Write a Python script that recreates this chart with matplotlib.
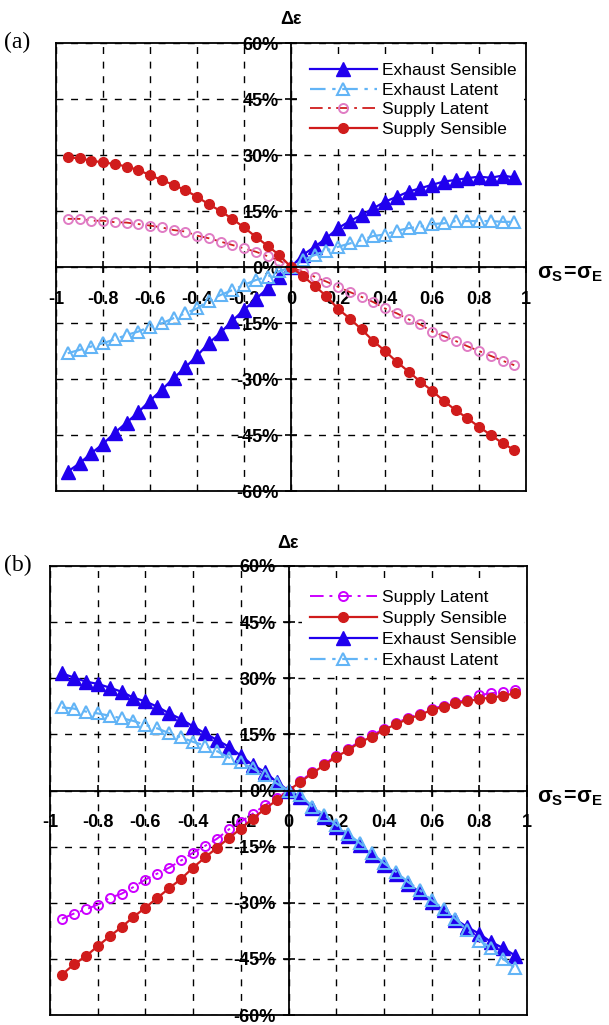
import matplotlib
matplotlib.use("Agg")
import matplotlib.pyplot as plt

plt.rcParams['font.family'] = ['Liberation Sans', 'DejaVu Sans']
plt.rcParams['mathtext.fontset'] = 'custom'
plt.rcParams['mathtext.bf'] = 'Liberation Sans:bold'
plt.rcParams['mathtext.rm'] = 'Liberation Sans:bold'
plt.rcParams['mathtext.it'] = 'Liberation Sans:bold'

# ---------------- data ----------------
sigma = [-0.95, -0.9, -0.85, -0.8, -0.75, -0.7, -0.65, -0.6, -0.55, -0.5,
         -0.45, -0.4, -0.35, -0.3, -0.25, -0.2, -0.15, -0.1, -0.05, 0.0,
         0.05, 0.1, 0.15, 0.2, 0.25, 0.3, 0.35, 0.4, 0.45, 0.5,
         0.55, 0.6, 0.65, 0.7, 0.75, 0.8, 0.85, 0.9, 0.95]

# panel (a)  (values in %)
a_exh_sens = [-54.8, -52.6, -49.9, -47.4, -44.4, -41.7, -38.9, -35.8, -32.9, -29.8,
              -26.9, -23.8, -20.4, -17.6, -14.4, -11.5, -8.6, -5.7, -2.8, 0.0,
              3.2, 5.4, 7.7, 10.4, 12.3, 13.9, 15.7, 17.5, 18.8, 20.2,
              21.1, 22.0, 22.9, 23.3, 23.8, 24.2, 23.9, 24.5, 24.0]
a_exh_lat = [-23.1, -22.2, -21.3, -20.4, -19.4, -18.2, -17.3, -16.0, -15.1, -13.7,
             -12.4, -11.1, -9.0, -7.5, -6.2, -4.8, -3.5, -2.6, -1.2, 0.0,
             1.8, 3.2, 4.4, 5.4, 6.3, 7.2, 8.3, 8.7, 9.7, 10.4,
             10.8, 11.5, 11.7, 12.3, 12.3, 12.3, 12.3, 12.1, 12.1]
a_sup_lat = [12.9, 12.9, 12.4, 12.4, 12.0, 11.9, 11.5, 11.1, 10.6, 9.9,
             9.5, 8.4, 7.7, 6.8, 5.9, 5.0, 4.1, 2.9, 1.7, 0.0,
             -1.3, -2.6, -3.9, -5.3, -6.7, -8.0, -9.4, -11.1, -12.4, -14.0,
             -15.4, -17.3, -18.5, -19.8, -21.2, -22.5, -23.8, -25.1, -26.3]
a_sup_sens = [29.4, 29.1, 28.5, 28.0, 27.6, 26.9, 26.0, 24.6, 23.3, 22.0,
              20.6, 18.8, 16.8, 15.0, 12.9, 10.6, 8.1, 5.7, 3.2, 0.0,
              -2.4, -5.0, -7.8, -11.2, -13.8, -16.7, -19.8, -22.5, -25.4, -28.0,
              -30.7, -33.1, -35.9, -38.3, -40.5, -42.8, -45.0, -47.2, -49.0]

# panel (b)
b_sup_lat = [-34.3, -32.9, -31.8, -30.5, -28.7, -27.6, -25.8, -23.8, -22.2, -20.6,
             -18.7, -16.6, -14.8, -12.9, -10.4, -8.4, -6.2, -4.0, -2.0, 0.0,
             2.5, 4.9, 7.1, 9.3, 11.1, 13.2, 14.7, 16.5, 18.0, 19.4,
             20.5, 21.8, 22.7, 23.6, 24.2, 25.5, 26.0, 26.4, 26.9]
b_sup_sens = [-49.2, -46.5, -44.3, -41.6, -39.0, -36.5, -33.8, -31.3, -28.7, -26.1,
              -23.6, -20.6, -17.9, -15.3, -12.7, -10.2, -7.5, -5.0, -2.6, 0.0,
              2.3, 4.6, 6.8, 9.0, 10.8, 12.9, 14.4, 16.2, 17.7, 19.1,
              20.2, 21.5, 22.4, 23.3, 23.8, 24.5, 24.8, 25.3, 26.0]
b_exh_sens = [31.3, 30.2, 29.1, 28.5, 27.5, 26.4, 24.8, 23.8, 22.4, 20.6,
              19.1, 17.1, 15.3, 13.5, 11.7, 9.3, 6.8, 5.0, 2.3, 0.0,
              -1.7, -4.8, -7.0, -9.7, -12.1, -14.6, -17.3, -19.9, -22.2, -24.9,
              -27.1, -29.8, -32.0, -34.5, -36.5, -38.3, -40.5, -42.1, -44.1]
b_exh_lat = [22.2, 21.9, 21.1, 20.6, 20.0, 19.3, 18.6, 17.5, 16.6, 15.3,
             14.2, 13.0, 12.0, 10.5, 8.8, 7.5, 5.9, 4.1, 1.9, 0.0,
             -1.2, -4.3, -6.5, -9.2, -11.6, -14.1, -16.8, -19.4, -21.7, -24.4,
             -26.6, -29.3, -31.6, -34.3, -37.4, -40.1, -42.1, -45.0, -47.5]

x_ticks = [-1, -0.8, -0.6, -0.4, -0.2, 0, 0.2, 0.4, 0.6, 0.8, 1]
x_ticklabels = ['-1', '-0.8', '-0.6', '-0.4', '-0.2', '0', '0.2', '0.4', '0.6', '0.8', '1']
y_ticks = [-60, -45, -30, -15, 0, 15, 30, 45, 60]
y_ticklabels = ['-60%', '-45%', '-30%', '-15%', '0%', '15%', '30%', '45%', '60%']

lab_es = 'Exhaust Sensible'
lab_el = 'Exhaust Latent'
lab_sl = 'Supply Latent'
lab_ss = 'Supply Sensible'

# ---------------- styles ----------------
BLUE = '#2000ee'
LBLUE = '#62b4f6'
RED = '#d01c1c'
PINK = '#e07cc4'
MAG = '#cc00ff'
DASHDOT = (0, (7, 3, 1.5, 3))

W, H = 609, 1025
fig = plt.figure(figsize=(W / 100, H / 100), dpi=100)


def px_axes(l, r, t, b):
    return fig.add_axes([l / W, 1 - b / H, (r - l) / W, (b - t) / H])


def style_axes(ax):
    ax.set_xlim(-1, 1)
    ax.set_ylim(-60, 60)
    for s in ['top', 'right']:
        ax.spines[s].set_linewidth(1.3)
    ax.spines['left'].set_position(('data', 0))
    ax.spines['bottom'].set_position(('data', 0))
    ax.spines['left'].set_linewidth(1.3)
    ax.spines['bottom'].set_linewidth(1.3)
    ax.axvline(-1, color='k', lw=1.3, clip_on=False, zorder=3)
    ax.axhline(-60, color='k', lw=1.3, clip_on=False, zorder=3)
    ax.set_xticks(x_ticks)
    ax.set_xticklabels(x_ticklabels)
    ax.set_yticks(y_ticks)
    ax.set_yticklabels(y_ticklabels)
    ax.tick_params(axis='both', direction='inout', length=8, width=1.2,
                   labelsize=13)
    ax.tick_params(axis='x', pad=13)
    ax.tick_params(axis='y', pad=5)
    for t in ax.get_xticklabels() + ax.get_yticklabels():
        t.set_fontweight('bold')
    ax.grid(True, color='k', lw=1.0, linestyle=(0, (5, 5.5)))
    ax.set_axisbelow(True)


def legend(ax, top_px, spacing):
    # white, frameless box that hides the grid behind it
    leg = ax.legend(loc='upper left', bbox_to_anchor=(302 / W, 1 - (top_px - 8) / H),
                    bbox_transform=fig.transFigure, frameon=True, fancybox=False,
                    facecolor='white', edgecolor='none', framealpha=1.0,
                    fontsize=12.5, handlelength=3.85, handletextpad=0.3,
                    labelspacing=spacing, borderpad=0.45, borderaxespad=0,
                    numpoints=1)
    leg.set_zorder(5)


# ---------------- panel (a) ----------------
axa = px_axes(56, 526, 43, 491)
style_axes(axa)
axa.plot(sigma, a_exh_sens, color=BLUE, lw=1.6, marker='^', ms=9.5,
         mfc=BLUE, mec=BLUE, label=lab_es)
axa.plot(sigma, a_exh_lat, color=LBLUE, lw=1.6, ls=DASHDOT, marker='^', ms=8.5,
         mfc='none', mec=LBLUE, mew=1.5, label=lab_el)
axa.plot(sigma, a_sup_lat, color=RED, lw=1.3, ls=DASHDOT, marker='o', ms=6.5,
         mfc='none', mec=PINK, mew=1.4, label=lab_sl)
axa.plot(sigma, a_sup_sens, color=RED, lw=1.6, marker='o', ms=7,
         mfc=RED, mec=RED, label=lab_ss)
legend(axa, 63, 0.26)

# ---------------- panel (b) ----------------
axb = px_axes(50, 527, 566, 1015)
style_axes(axb)
axb.plot(sigma, b_sup_lat, color=MAG, lw=1.4, ls=DASHDOT, marker='o', ms=6.5,
         mfc='none', mec=MAG, mew=1.4, label=lab_sl)
axb.plot(sigma, b_sup_sens, color=RED, lw=1.6, marker='o', ms=7,
         mfc=RED, mec=RED, label=lab_ss)
axb.plot(sigma, b_exh_sens, color=BLUE, lw=1.6, marker='^', ms=9.5,
         mfc=BLUE, mec=BLUE, label=lab_es)
axb.plot(sigma, b_exh_lat, color=LBLUE, lw=1.6, ls=DASHDOT, marker='^', ms=8.5,
         mfc='none', mec=LBLUE, mew=1.5, label=lab_el)
legend(axb, 590, 0.34)

# ---------------- labels ----------------
for (xc, yc, xl, yl, tag, ty) in [(291, 20, 537, 273, '(a)', 42),
                                  (288, 544, 537, 797, '(b)', 565)]:
    fig.text(xc / W, 1 - yc / H, 'Δε', ha='center', va='center',
             fontsize=13, fontweight='bold')
    fig.text(xl / W, 1 - yl / H, r'$\mathbf{σ_S\!=\!σ_E}$', ha='left',
             va='center', fontsize=15.5)
    fig.text(4 / W, 1 - ty / H, tag, ha='left', va='center', fontsize=17,
             family='Liberation Serif')

fig.savefig('out.png', dpi=100)
